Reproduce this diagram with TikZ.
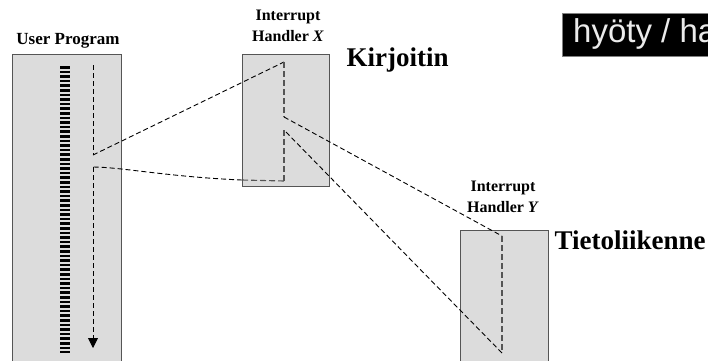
\documentclass[tikz,border=0pt]{standalone}
\usepackage{fontspec}
\setmainfont{Liberation Serif}
\newfontfamily\boxfont{Liberation Sans}
\usetikzlibrary{arrows.meta}
\definecolor{boxgray}{HTML}{DCDCDC}
\definecolor{edgegray}{HTML}{555555}
\tikzset{
  progbox/.style={draw=edgegray, line width=1bp, fill=boxgray, inner sep=0pt, anchor=north west},
  flow/.style={dashed, dash pattern=on 5bp off 3bp, line width=0.9bp, black},
  inflow/.style={dash pattern=on 6bp off 3bp, line width=1.1bp, edgegray},
  title/.style={font=\bfseries\fontsize{16bp}{21bp}\selectfont, align=center},
  biglabel/.style={font=\bfseries\fontsize{27bp}{29bp}\selectfont, anchor=west}
}
\begin{document}
\begin{tikzpicture}[x=1bp,y=-1bp]
\useasboundingbox (0,0) rectangle (708,360);
\fill[white] (0,0) rectangle (708,360);
\begin{scope}
\clip (0,0) rectangle (708,360);
% boxes
\node[progbox, minimum width=109bp, minimum height=320bp] (up) at (12,54) {};
\node[progbox, minimum width=87bp, minimum height=132bp] (hx) at (242,54) {};
\node[progbox, minimum width=88bp, minimum height=140bp] (hy) at (460,230) {};
% titles
\node[title, font=\bfseries\fontsize{17bp}{20bp}\selectfont] (tup) at (68,41) {User Program};
\node[title] (thx) at (288,26) {Interrupt\\Handler \textit{X}};
\node[title] (thy) at (503,197) {Interrupt\\Handler \textit{Y}};
\node[biglabel] (kir) at (343,60) {Kirjoitin};
\node[biglabel] (tie) at (551,240) {Tietoliikenne};
% instruction stripes
\draw[line width=10bp, dash pattern=on 2.5bp off 2.1bp] (65,66) -- (65,353);
% flow points
\coordinate (u1) at (93,65);
\coordinate (u2) at (93,155);
\coordinate (u3) at (93,167);
\coordinate (u4) at (93,348);
\coordinate (x1) at (284,62);
\coordinate (x2) at (284,117);
\coordinate (x3) at (284,130);
\coordinate (x4) at (284,181);
\coordinate (y1) at (502,236);
\coordinate (y2) at (502,353);
% user program flow
\draw[flow] (u1) -- (u2);
\draw[flow, -{Triangle[length=10bp,width=10bp]}] (u3) -- (u4);
\draw[flow] (u2) -- (x1);
\draw[inflow] (x1) -- (x2);
\draw[flow] (x2) -- (y1);
\draw[inflow] (y1) -- (y2);
\draw[flow] (y2) -- (x3);
\draw[inflow] (x3) -- (x4);
\draw[inflow] (x4) -- (242,180);
\draw[flow] (242,180) .. controls (170,177) and (120,167) .. (u3);
% black label
\node[fill=black, draw=gray, line width=1bp, anchor=north west, minimum width=160bp, minimum height=43bp, inner sep=0pt] (hb) at (562,13) {};
\node[anchor=base west, text=white!92!black, font=\boxfont\fontsize{33bp}{33bp}\selectfont, inner sep=0pt] (ht) at (573,42) {hyöty / ha};
\end{scope}
\end{tikzpicture}
\end{document}
